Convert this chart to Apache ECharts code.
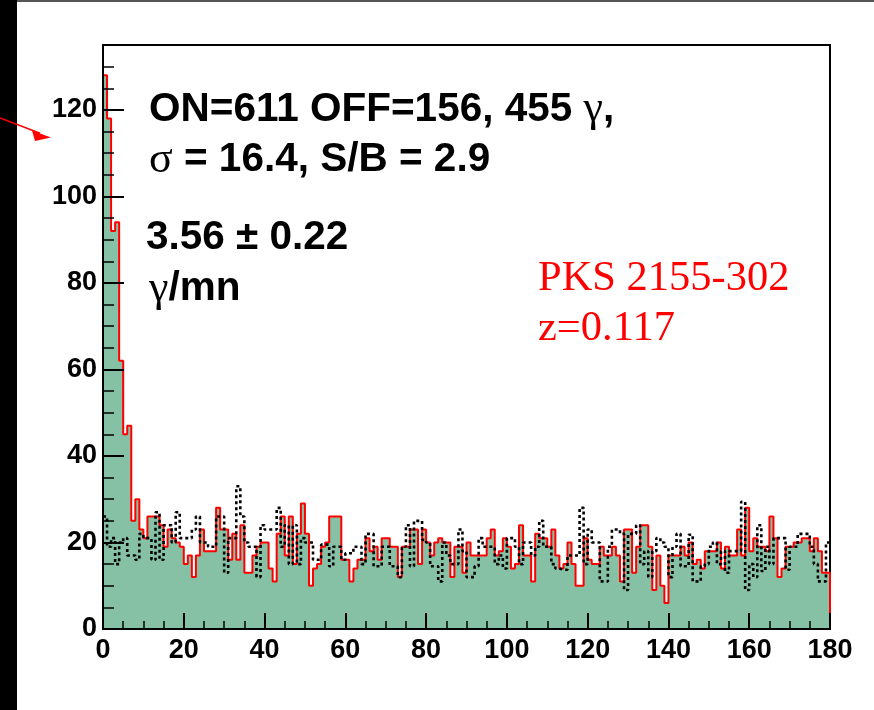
<!DOCTYPE html>
<html>
<head>
<meta charset="utf-8">
<script src="https://cdn.jsdelivr.net/npm/echarts@6/dist/echarts.min.js"></script>
<style>
  html, body { margin: 0; padding: 0; background: #fff; }
  #chart { width: 874px; height: 710px; }
</style>
</head>
<body>
<div id="chart"></div>
<script>
// theta^2 histogram, one unit per bin, 0..180
const binWidth = 1;
const onCounts = [
  128, 118, 92, 94, 62, 45, 47, 25, 30, 23,
  21, 26, 26, 26, 24, 19, 23, 21, 20, 19,
  15, 17, 12, 17, 23, 18, 18, 18, 28, 23,
  23, 16, 22, 16, 24, 13, 13, 17, 19, 20,
  20, 14, 11, 22, 26, 17, 26, 15, 22, 29,
  22, 10, 14, 15, 19, 20, 26, 26, 26, 16,
  16, 11, 14, 16, 16, 21, 18, 19, 16, 21,
  21, 19, 19, 12, 19, 19, 23, 23, 15, 23,
  20, 17, 20, 21, 20, 20, 12, 19, 19, 13,
  20, 17, 17, 17, 17, 21, 23, 17, 18, 21,
  19, 14, 15, 24, 17, 17, 11, 22, 21, 21,
  19, 23, 17, 14, 15, 20, 15, 10, 10, 21,
  16, 15, 15, 19, 17, 17, 19, 17, 11, 23,
  23, 13, 19, 24, 24, 19, 9, 17, 10, 6,
  17, 17, 17, 19, 17, 20, 15, 16, 14, 18,
  18, 18, 20, 14, 19, 17, 17, 23, 17, 28,
  18, 21, 19, 19, 18, 26, 21, 12, 14, 19,
  19, 20, 20, 21, 21, 18, 21, 18, 13, 13
];
const offCounts = [
  26, 19, 21, 15, 20, 21, 17, 17, 16, 22,
  21, 21, 16, 27, 16, 24, 24, 20, 27, 21,
  21, 21, 23, 26, 20, 20, 19, 19, 26, 26,
  13, 21, 21, 33, 26, 20, 19, 19, 12, 24,
  23, 23, 23, 28, 19, 24, 15, 24, 15, 21,
  20, 20, 16, 16, 19.5, 19.5, 14.5, 19, 19, 16,
  17.5, 17.5, 19, 19, 15, 22, 22, 14.5, 14.5, 19,
  19, 14.5, 14.5, 12, 19, 24, 14.5, 25, 25, 20.6,
  20, 14.5, 14.5, 11, 20, 17, 15, 15, 23, 18,
  12, 12, 14.5, 21, 19, 19, 19, 15, 17, 14,
  21, 21, 19, 15, 20, 20, 17, 19, 25, 19,
  19, 15, 14, 13.7, 13.7, 17, 17, 17, 28, 15,
  23, 20, 20, 11, 11, 19, 23, 23, 22, 9,
  22, 22, 24, 15, 18, 12, 18, 21, 20, 19,
  12, 19, 22, 14.5, 14.5, 21.8, 11, 11, 14.5, 15,
  19, 20, 15, 18, 13, 18, 18, 18, 29.4, 9,
  15, 12, 24, 13.4, 19, 15, 21, 21, 21, 13.7,
  19, 19, 22, 22, 22, 19, 15, 11, 11, 20
];
const xTickLabels = ['0', '20', '40', '60', '80', '100', '120', '140', '160', '180'];
const yTickLabels = ['0', '20', '40', '60', '80', '100', '120'];

// Step outlines: each point opens a bin at its left edge.
function stepPoints(counts, closeToZero) {
  const pts = [];
  if (closeToZero) pts.push([0, 0]);
  counts.forEach((c, i) => pts.push([i * binWidth, c]));
  const end = counts.length * binWidth;
  pts.push([end, counts[counts.length - 1]]);
  if (closeToZero) pts.push([end, 0]);
  return pts;
}

const SANS = 'Liberation Sans, Arial, Helvetica, sans-serif';
const SERIF = 'Liberation Serif, Times New Roman, serif';
const labelStyle = { fontFamily: SANS, fontWeight: 'bold', fontSize: 27, color: '#000' };

const chart = echarts.init(document.getElementById('chart'), null, { renderer: 'canvas' });

const bold = { fontFamily: SANS, fontWeight: 'bold', fontSize: 40.5, fill: '#000' };
const greek = { fontFamily: SERIF, fontWeight: 'normal', fontSize: 44, fill: '#000' };

chart.setOption({
  animation: false,
  backgroundColor: '#fff',
  grid: {
    left: 103, right: 44, top: 45, bottom: 81,
    show: true, borderColor: '#000', borderWidth: 2, backgroundColor: 'transparent'
  },
  xAxis: {
    type: 'value', min: 0, max: 180, interval: 20, z: 10,
    axisLine: { show: true, onZero: false, lineStyle: { color: '#000', width: 2 } },
    axisTick: { show: true, inside: true, length: 16, lineStyle: { color: '#000', width: 2 } },
    minorTick: { show: true, splitNumber: 4, length: 8, lineStyle: { color: '#000', width: 1.5 } },
    axisLabel: Object.assign({ margin: 8,
      formatter: v => xTickLabels[Math.round(v / 20)] || '' }, labelStyle),
    splitLine: { show: false }, minorSplitLine: { show: false }
  },
  yAxis: [{
    type: 'value', min: 0, max: 135, interval: 20, z: 10, position: 'left',
    axisLine: { show: true, onZero: false, lineStyle: { color: '#000', width: 2 } },
    axisTick: { show: true, inside: true, length: 21, lineStyle: { color: '#000', width: 2 } },
    axisLabel: Object.assign({ margin: 6, showMaxLabel: false,
      formatter: v => (v % 20 === 0 ? (yTickLabels[v / 20] || '') : '') }, labelStyle),
    splitLine: { show: false }
  }, {
    type: 'value', min: 0, max: 135, interval: 5, z: 10, position: 'left', offset: 0,
    axisLine: { show: false },
    axisTick: { show: true, inside: true, length: 11, lineStyle: { color: '#000', width: 1.5 } },
    axisLabel: { show: false },
    splitLine: { show: false }
  }],
  series: [{
    name: 'ON', type: 'line', step: 'end', yAxisIndex: 0,
    data: stepPoints(onCounts, true),
    showSymbol: false, symbol: 'none', z: 2,
    lineStyle: { color: '#ff0000', width: 2 },
    areaStyle: { color: '#86c1a5', opacity: 1 }
  }, {
    name: 'OFF', type: 'line', step: 'end', yAxisIndex: 0,
    data: stepPoints(offCounts, false),
    showSymbol: false, symbol: 'none', z: 3,
    lineStyle: { color: '#000', width: 2.6, type: [3, 3] }
  }],
  graphic: [
    { type: 'rect', shape: { x: 0, y: 0, width: 874, height: 2 }, style: { fill: '#555' }, z: 100 },
    { type: 'rect', shape: { x: 0, y: 0, width: 17, height: 710 }, style: { fill: '#000' }, z: 100 },
    { type: 'polyline', shape: { points: [[0, 118], [40, 133.3]] },
      style: { stroke: '#ff0000', lineWidth: 1.6, fill: null }, z: 101 },
    { type: 'polygon', shape: { points: [[51, 137.5], [32, 130.5], [35, 141]] },
      style: { fill: '#ff0000' }, z: 101 },
    { type: 'text', x: 149, y: 109.5, z: 100,
      style: { text: '{b|ON=611 OFF=156, 455 }{g|γ}{b|,}', rich: { b: bold, g: greek }, verticalAlign: 'middle' } },
    { type: 'text', x: 149, y: 160, z: 100,
      style: { text: '{g|σ}{b| = 16.4, S/B = 2.9}', rich: { b: bold, g: greek }, verticalAlign: 'middle' } },
    { type: 'text', x: 146, y: 238, z: 100,
      style: { text: '{b|3.56 ± 0.22}', rich: { b: bold }, verticalAlign: 'middle' } },
    { type: 'text', x: 149, y: 289, z: 100,
      style: { text: '{g|γ}{b|/mn}', rich: { b: bold, g: greek }, verticalAlign: 'middle' } },
    { type: 'text', x: 538, y: 279, z: 100,
      style: { text: 'PKS 2155-302', fontFamily: SERIF, fontSize: 42.5, fill: '#ff0000', verticalAlign: 'middle' } },
    { type: 'text', x: 538, y: 329, z: 100,
      style: { text: 'z=0.117', fontFamily: SERIF, fontSize: 42.5, fill: '#ff0000', verticalAlign: 'middle' } }
  ]
});
</script>
</body>
</html>
